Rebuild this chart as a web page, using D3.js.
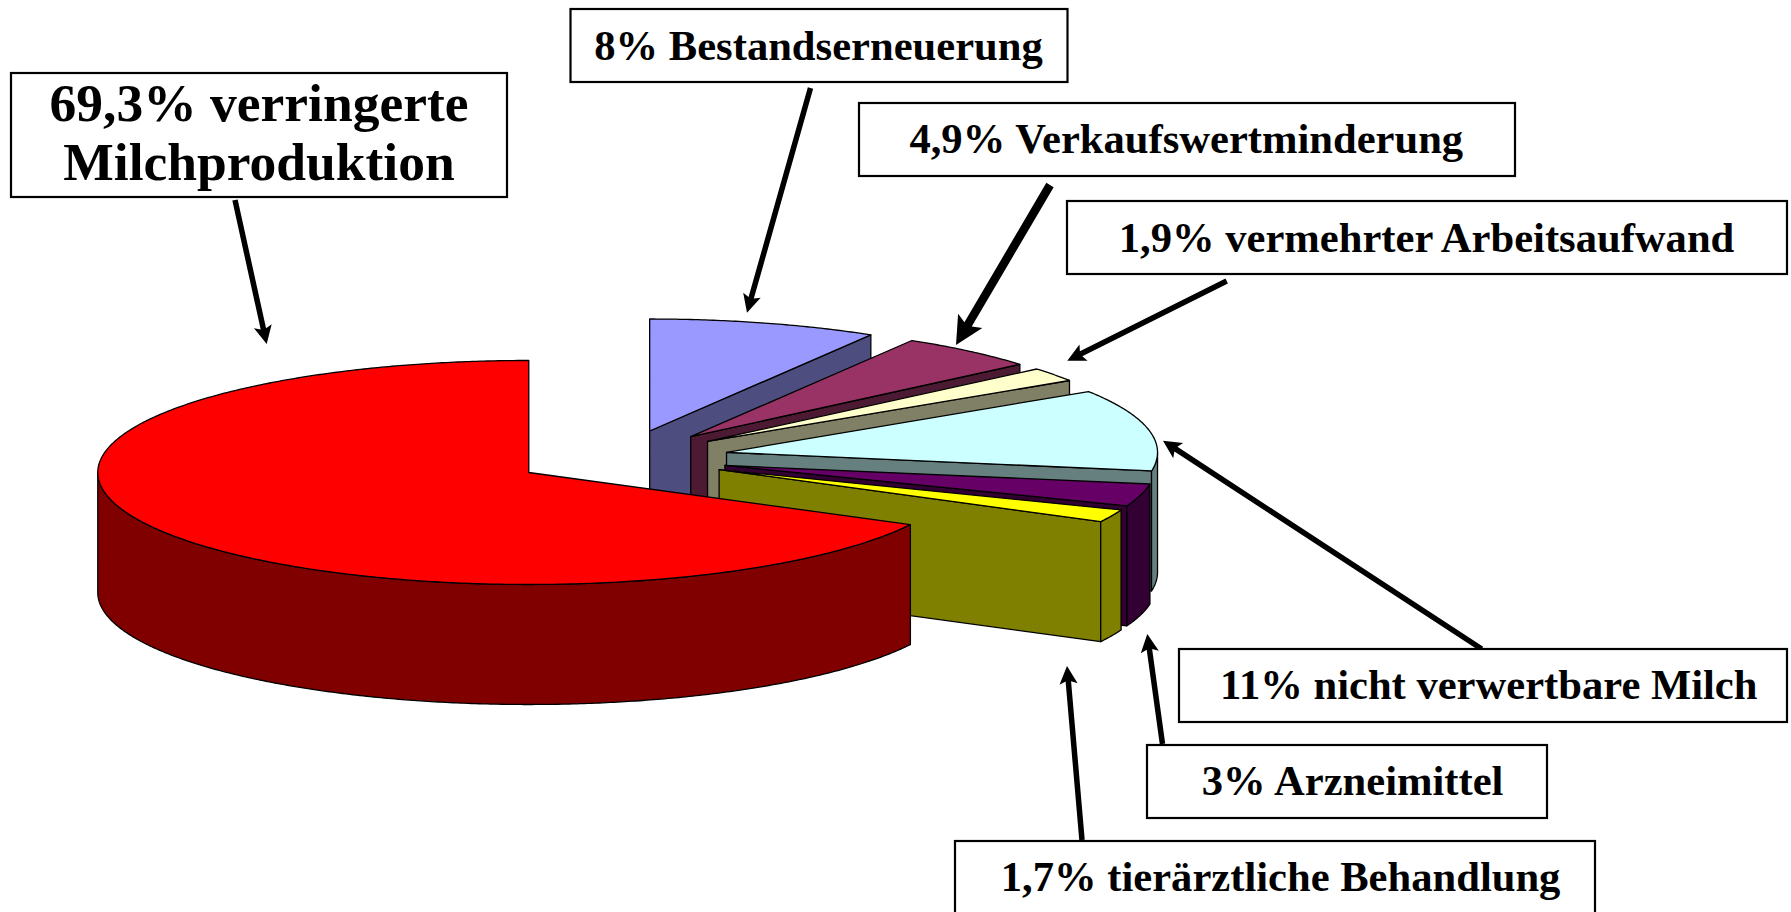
<!DOCTYPE html>
<html><head><meta charset="utf-8">
<script src="https://cdn.jsdelivr.net/npm/d3@7/dist/d3.min.js"></script>
<style>html,body{margin:0;padding:0;background:#fff;overflow:hidden}svg{display:block}
text{font-family:"Liberation Serif","Times New Roman",serif;font-weight:bold;fill:#000}</style>
</head><body><svg id="c" width="1791" height="912"></svg>
<script>
// data, clockwise from 12 o'clock
const names = ["Bestandserneuerung","Verkaufswertminderung","vermehrter Arbeitsaufwand","nicht verwertbare Milch","Arzneimittel","tierärztliche Behandlung","verringerte Milchproduktion"];
const values = [8, 4.9, 1.9, 11, 3, 1.7, 69.3];
const valueLabels = ["8%","4,9%","1,9%","11%","3%","1,7%","69,3%"];
const colors = ["#9999ff","#993366","#ffffcc","#ccffff","#660066","#ffff00","#ff0000"];

// pie geometry
const center = [621, 458], rx = 431, ry = 112, depth = 120, explode = 0.25;
const TAU = 2*Math.PI, deg = Math.PI/180;
const smallShare = d3.sum(values.slice(0,6))/d3.sum(values);
// the 3D view widens the small slices a little
const viewAngle = d3.scaleLinear().domain([0, smallShare*TAU, TAU]).range([0, 117.7*deg, TAU]);

const arcs = d3.pie().sort(null).value(d=>d)(values).map((a,i)=>{
  const t0 = viewAngle(a.startAngle), t1 = viewAngle(a.endAngle), tm=(t0+t1)/2;
  return {i, t0, t1, ax:center[0]+explode*rx*Math.sin(tm), ay:center[1]-explode*ry*Math.cos(tm)};
});

const svg = d3.select("#c");
const line = d3.line();
const pt = (a,t,dz=0)=>[a.ax+rx*Math.sin(t), a.ay-ry*Math.cos(t)+dz];
const samples = (t0,t1)=>{const n=Math.max(2,Math.ceil((t1-t0)/(0.5*deg)));return d3.range(n+1).map(k=>t0+(t1-t0)*k/n);};
const half = c=>{const r=d3.rgb(c);return d3.rgb(r.r/2,r.g/2,r.b/2).formatHex();};

const g = svg.append("g").attr("stroke","#000").attr("stroke-width",1.3).attr("stroke-linejoin","round");
arcs.forEach(a=>{
  const col=colors[a.i], side=half(col);
  // radial end wall
  if(a.t1<Math.PI){
    const e=pt(a,a.t1);
    g.append("path").attr("fill",side).attr("d",line([[a.ax,a.ay],e,[e[0],e[1]+depth],[a.ax,a.ay+depth]])+"Z");
  }
  // outer wall, front half only
  const w0=Math.max(a.t0,Math.PI/2), w1=Math.min(a.t1,1.5*Math.PI);
  if(w1>w0){
    const ts=samples(w0,w1);
    g.append("path").attr("fill",side).attr("d",line(ts.map(t=>pt(a,t)).concat(ts.slice().reverse().map(t=>pt(a,t,depth))))+"Z");
  }
  // top
  g.append("path").attr("fill",col).attr("d",line([[a.ax,a.ay]].concat(samples(a.t0,a.t1).map(t=>pt(a,t))))+"Z");
});

// annotation layout: one per slice
const boxes = [
 {i:0,x:570.5,y:9,w:497,h:73,fs:42.6,lines:[[818.5,59.5]],from:[810.5,88],to:[747,312.7],sw:5.5},
 {i:1,x:859,y:103,w:656,h:73,fs:42.6,lines:[[1186.3,152.5]],from:[1050,185],to:[956,345],sw:8.5},
 {i:2,x:1067,y:201,w:720,h:73,fs:42.6,lines:[[1426.5,252]],from:[1226.7,281],to:[1067.3,360.7],sw:5.5},
 {i:3,x:1179,y:649,w:608,h:73,fs:42.6,lines:[[1488.7,698.5]],from:[1481.7,649],to:[1163,440.7],sw:5.5},
 {i:4,x:1147,y:745,w:400,h:73,fs:42.6,lines:[[1352.6,795]],from:[1162.5,744],to:[1147.3,634],sw:5.5},
 {i:5,x:955,y:841,w:640,h:73,fs:42.6,lines:[[1280.6,891]],from:[1082,840],to:[1067,666],sw:5.5},
 {i:6,x:11,y:73,w:496,h:124,fs:53.5,lines:[[259,121],[259,180]],from:[235,200],to:[266.7,344],sw:5.5,split:true}
];
boxes.forEach(b=>{
  // arrow
  const [x0,y0]=b.from,[x1,y1]=b.to, L=Math.hypot(x1-x0,y1-y0), ux=(x1-x0)/L, uy=(y1-y0)/L, nx=-uy, ny=ux;
  const hl=b.sw*3.3, hw=b.sw*1.65, notch=hl*0.85;
  svg.append("path").attr("fill","#000").attr("d",line([
    [x0+nx*b.sw/2,y0+ny*b.sw/2],
    [x1-ux*notch+nx*b.sw/2,y1-uy*notch+ny*b.sw/2],
    [x1-ux*hl+nx*hw,y1-uy*hl+ny*hw],
    [x1,y1],
    [x1-ux*hl-nx*hw,y1-uy*hl-ny*hw],
    [x1-ux*notch-nx*b.sw/2,y1-uy*notch-ny*b.sw/2],
    [x0-nx*b.sw/2,y0-ny*b.sw/2]
  ])+"Z");
  svg.append("rect").attr("x",b.x).attr("y",b.y).attr("width",b.w).attr("height",b.h)
     .attr("fill","#fff").attr("stroke","#000").attr("stroke-width",2.2);
  const txt = b.split ? [valueLabels[b.i]+" verringerte","Milchproduktion"] : [valueLabels[b.i]+" "+names[b.i]];
  txt.forEach((s,k)=>{
    svg.append("text").attr("x",b.lines[k][0]).attr("y",b.lines[k][1]).attr("text-anchor","middle")
      .attr("font-size",b.fs).text(s);
  });
});
</script></body></html>
